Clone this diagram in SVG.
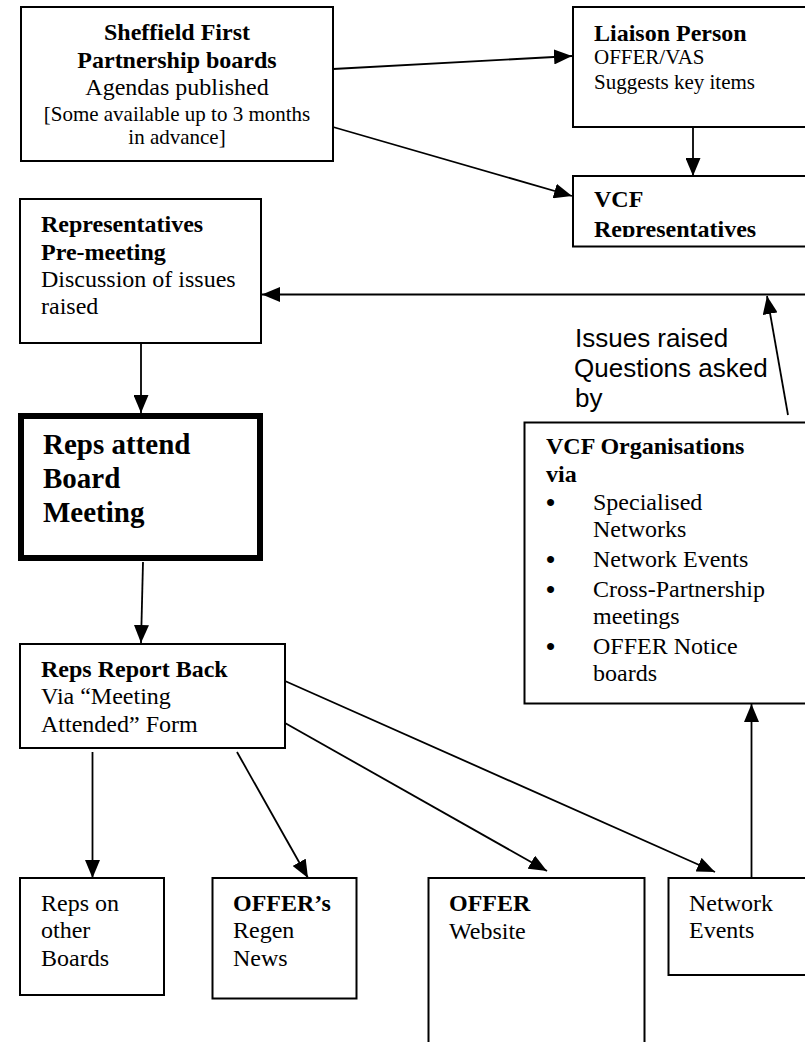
<svg xmlns="http://www.w3.org/2000/svg" width="805" height="1042" viewBox="0 0 805 1042">
<style>
.box{fill:#fff;stroke:#000;stroke-width:2}
.thick{fill:#fff;stroke:#000;stroke-width:6}
.t{font-family:"Liberation Serif","Times New Roman",serif;font-size:24px;fill:#000}
.s{font-size:21px}
.b{font-weight:bold}
.big{font-size:29px;font-weight:bold}
.bul{font-family:"Liberation Serif","Times New Roman",serif;font-size:26px;font-weight:bold;fill:#000}
.lbl{font-family:"Liberation Sans",Arial,sans-serif;font-size:26px;fill:#000}
.c{fill:none;stroke:#000;stroke-width:1.8}
</style>
<defs>
<marker id="ah" markerUnits="userSpaceOnUse" markerWidth="18" markerHeight="15" refX="18" refY="7.5" orient="auto">
<path d="M0,0 L18,7.5 L0,15 z" fill="#000"/>
</marker>
<clipPath id="clipReps"><rect x="573" y="176" width="240" height="61"/></clipPath>
</defs>
<rect width="805" height="1042" fill="#fff"/>

<g id="connectors">
<path class="c" d="M333,69 L572,56" marker-end="url(#ah)"/>
<path class="c" d="M333,127 L572,196" marker-end="url(#ah)"/>
<path class="c" d="M693,127 L693,176" marker-end="url(#ah)"/>
<path class="c" d="M805,294.5 L262,294.5" marker-end="url(#ah)"/>
<path class="c" d="M788,415 L767,296" marker-end="url(#ah)"/>
<path class="c" d="M141,343 L141,413" marker-end="url(#ah)"/>
<path class="c" d="M143,562 L141,643" marker-end="url(#ah)"/>
<path class="c" d="M92.5,752 L92.5,878" marker-end="url(#ah)"/>
<path class="c" d="M237,752 L308,878" marker-end="url(#ah)"/>
<path class="c" d="M285,723 L547,871" marker-end="url(#ah)"/>
<path class="c" d="M285,681 L715,872" marker-end="url(#ah)"/>
<path class="c" d="M751.5,878 L751.5,704" marker-end="url(#ah)"/>
</g>

<g id="sheffield">
<rect class="box" x="21" y="7" width="312" height="154"/>
<text class="t b" x="177" y="40" text-anchor="middle">Sheffield First</text>
<text class="t b" x="177" y="68" text-anchor="middle">Partnership boards</text>
<text class="t" x="177" y="94.5" text-anchor="middle">Agendas published</text>
<text class="t s" x="177" y="120.5" text-anchor="middle">[Some available up to 3 months</text>
<text class="t s" x="177" y="144" text-anchor="middle">in advance]</text>
</g>

<g id="liaison">
<rect class="box" x="573" y="7" width="240" height="120"/>
<text class="t b" x="594" y="41">Liaison Person</text>
<text class="t s" x="594" y="64">OFFER/VAS</text>
<text class="t s" x="594" y="89">Suggests key items</text>
</g>

<g id="vcf-reps">
<rect class="box" x="573" y="176" width="240" height="70.5"/>
<g clip-path="url(#clipReps)">
<text class="t b" x="594" y="207">VCF</text>
<text class="t b" x="594" y="237">Representatives</text>
</g>
</g>

<g id="premeeting">
<rect class="box" x="20" y="199" width="241" height="144"/>
<text class="t b" x="41" y="232">Representatives</text>
<text class="t b" x="41" y="260">Pre-meeting</text>
<text class="t" x="41" y="287">Discussion of issues</text>
<text class="t" x="41" y="314">raised</text>
</g>

<g id="issues-label">
<text class="lbl" x="575" y="347">Issues raised</text>
<text class="lbl" x="574" y="377">Questions asked</text>
<text class="lbl" x="575" y="407">by</text>
</g>

<g id="reps-attend">
<rect class="thick" x="21" y="416" width="239" height="142"/>
<text class="t big" x="43" y="454">Reps attend</text>
<text class="t big" x="43" y="488">Board</text>
<text class="t big" x="43" y="522">Meeting</text>
</g>

<g id="vcf-orgs">
<rect class="box" x="524.5" y="422.5" width="300" height="281"/>
<text class="t b" x="546" y="454">VCF Organisations</text>
<text class="t b" x="546" y="482">via</text>
<text class="bul" x="546" y="511">•</text>
<text class="t" x="593" y="510">Specialised</text>
<text class="t" x="593" y="537">Networks</text>
<text class="bul" x="546" y="568">•</text>
<text class="t" x="593" y="567">Network Events</text>
<text class="bul" x="546" y="598">•</text>
<text class="t" x="593" y="597">Cross-Partnership</text>
<text class="t" x="593" y="624">meetings</text>
<text class="bul" x="546" y="655">•</text>
<text class="t" x="593" y="654">OFFER Notice</text>
<text class="t" x="593" y="681">boards</text>
</g>

<g id="report-back">
<rect class="box" x="20" y="644" width="265" height="104"/>
<text class="t b" x="41" y="677">Reps Report Back</text>
<text class="t" x="41" y="704">Via “Meeting</text>
<text class="t" x="41" y="732">Attended” Form</text>
</g>

<g id="reps-on">
<rect class="box" x="20" y="878" width="144" height="117"/>
<text class="t" x="41" y="911">Reps on</text>
<text class="t" x="41" y="938">other</text>
<text class="t" x="41" y="966">Boards</text>
</g>

<g id="offers-regen">
<rect class="box" x="212.5" y="878" width="144" height="120.5"/>
<text class="t b" x="233" y="911">OFFER’s</text>
<text class="t" x="233" y="938">Regen</text>
<text class="t" x="233" y="966">News</text>
</g>

<g id="offer-website">
<rect class="box" x="428.5" y="878" width="216" height="200"/>
<text class="t b" x="449" y="911">OFFER</text>
<text class="t" x="449" y="939">Website</text>
</g>

<g id="network-events">
<rect class="box" x="668.5" y="878" width="150" height="97"/>
<text class="t" x="689" y="911">Network</text>
<text class="t" x="689" y="938">Events</text>
</g>
</svg>
